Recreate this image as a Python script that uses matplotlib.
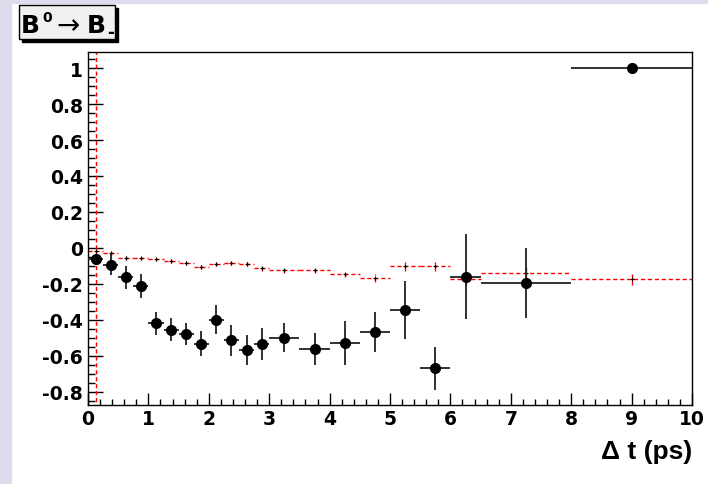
import numpy as np
import matplotlib
matplotlib.use("Agg")
import matplotlib.pyplot as plt
from matplotlib.patches import Rectangle
from matplotlib.ticker import MultipleLocator

plt.rcParams["font.family"] = ["Liberation Sans", "DejaVu Sans"]
plt.rcParams["font.weight"] = "bold"

# bin centres and half widths (ps)
dt_centres = [0.125, 0.375, 0.625, 0.875, 1.125, 1.375, 1.625, 1.875,
              2.125, 2.375, 2.625, 2.875, 3.25, 3.75, 4.25, 4.75,
              5.25, 5.75, 6.25, 7.25, 9.0]
dt_halfwidth = [0.125] * 12 + [0.25] * 7 + [0.75, 1.0]

# measured asymmetry (black points)
asym = [-0.065, -0.095, -0.165, -0.21, -0.42, -0.455, -0.48, -0.535,
        -0.40, -0.515, -0.57, -0.535, -0.50, -0.565, -0.53, -0.47,
        -0.345, -0.67, -0.16, -0.195, 1.0]
asym_err = [0.03, 0.058, 0.065, 0.067, 0.065, 0.065, 0.063, 0.07,
            0.082, 0.087, 0.083, 0.09, 0.08, 0.089, 0.12, 0.11,
            0.163, 0.12, 0.235, 0.196, 0.0]

# reference curve (red dashed)
ref = [-0.02, -0.03, -0.056, -0.059, -0.065, -0.074, -0.085, -0.106,
       -0.091, -0.083, -0.089, -0.115, -0.126, -0.126, -0.143, -0.167,
       -0.102, -0.102, -0.175, -0.139, -0.176]
ref_err = [1.5, 0.015, 0.012, 0.01, 0.01, 0.012, 0.012, 0.012,
           0.013, 0.013, 0.015, 0.015, 0.015, 0.015, 0.02, 0.024,
           0.025, 0.025, 0.03, 0.03, 0.032]

x_ticks = list(range(0, 11))
x_labels = [str(t) for t in x_ticks]
y_ticks = [-0.8, -0.6, -0.4, -0.2, 0, 0.2, 0.4, 0.6, 0.8, 1]
y_labels = ["-0.8", "-0.6", "-0.4", "-0.2", "0", "0.2", "0.4", "0.6", "0.8", "1"]

W, H = 708, 485
fig = plt.figure(figsize=(W / 100, H / 100), dpi=100)


def px(x, y):
    # pixel position (from top left) -> figure fraction
    return x / W, 1 - y / H


# canvas border strips
fig.patches.append(Rectangle((0, 0), 11 / W, 1, transform=fig.transFigure,
                             color="#dcdcec", zorder=0))
fig.patches.append(Rectangle(px(0, 4), 1, 4 / H, transform=fig.transFigure,
                             color="#dcdcec", zorder=0))

ax = fig.add_axes([88 / W, 1 - 406 / H, (692 - 88) / W, (406 - 53) / H])

eb = ax.errorbar(dt_centres, ref, xerr=dt_halfwidth, yerr=ref_err, fmt="+",
                 color="black", ms=3, mew=0.8, ecolor="red", elinewidth=1.0,
                 capsize=0, zorder=2)
for lc in eb[2]:
    lc.set_linestyle((0, (3, 2)))

ax.errorbar(dt_centres, asym, xerr=dt_halfwidth, yerr=asym_err, fmt="o",
            color="black", ms=7, ecolor="#222222", elinewidth=1.3,
            capsize=0, zorder=3)

tick_font = dict(fontfamily="DejaVu Sans", fontweight="bold", fontsize=13.5)
ax.set_xlim(0, 10)
ax.set_ylim(-0.875, 1.09)
ax.set_xticks(x_ticks)
ax.set_xticklabels(x_labels, **tick_font)
ax.set_yticks(y_ticks)
ax.set_yticklabels(y_labels, **tick_font)
ax.xaxis.set_minor_locator(MultipleLocator(0.2))
ax.yaxis.set_minor_locator(MultipleLocator(0.05))
ax.tick_params(axis="both", which="both", direction="in", top=False, right=False,
               width=1.0)
ax.tick_params(axis="x", which="major", length=8.5, pad=3)
ax.tick_params(axis="x", which="minor", length=4.3)
ax.tick_params(axis="y", which="major", length=10.8, pad=3.5)
ax.tick_params(axis="y", which="minor", length=5)
for sp in ax.spines.values():
    sp.set_linewidth(1.0)

fig.text(*px(692, 452), "\u0394 t (ps)", ha="right", va="center",
         fontsize=19, fontweight="bold")

# title box with shadow
bx0, by0, bw, bh = 19, 6, 96, 34
fig.patches.append(Rectangle(px(bx0 + 3, by0 + bh + 3), bw / W, bh / H,
                             transform=fig.transFigure, color="black", zorder=5))
fig.patches.append(Rectangle(px(bx0, by0 + bh), bw / W, bh / H,
                             transform=fig.transFigure, facecolor="#f0f0f0",
                             edgecolor="black", lw=1.0, zorder=6))
title_parts = [("B", 21, 33, 18, "bold", "baseline"),
               ("0", 42.5, 21.7, 10, "bold", "baseline"),
               ("\u2192", 56, 26.5, 20, "normal", "center"),
               ("B", 87, 33, 18, "bold", "baseline"),
               ("-", 107, 38, 12, "bold", "baseline")]
for s, x, y, size, weight, va in title_parts:
    fig.text(*px(x, y), s, ha="left", va=va, fontsize=size, fontweight=weight,
             fontfamily="DejaVu Sans", zorder=7)

fig.savefig("out.png", dpi=100)
